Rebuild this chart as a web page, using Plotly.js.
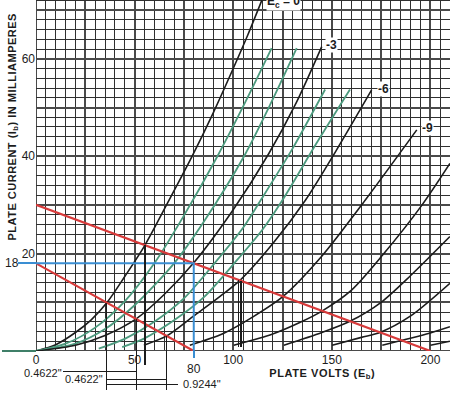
<!DOCTYPE html>
<html><head><meta charset="utf-8">
<script src="https://cdn.plot.ly/plotly-3.0.1.min.js"></script>
<style>
html,body{margin:0;padding:0;background:#fff;}
#chart{width:450px;height:394px;}
g.annotation[data-index="0"] text{letter-spacing:0.5px;}
g.annotation[data-index="1"] text{letter-spacing:0.6px;}
g.shapelayer path{shape-rendering:crispEdges;}
</style></head><body><div id="chart"></div>
<script>
// ---- plate characteristic curves (plate volts, plate mA) ----
const ec0V = [0, 10, 20, 28, 35.9, 45, 55.2, 67, 79.2, 90, 100, 107.5, 114.6];
const ec0I = [0, 1.3, 3.8, 6.4, 9.9, 15.3, 21.7, 30.6, 40, 49, 58, 65, 72.1];
const ecm1V = [0, 15, 30, 45, 60, 75, 92, 106, 119.5];
const ecm1I = [0, 1.5, 4.8, 10.2, 18, 27.8, 40, 51, 62.2];
const ecm2V = [0, 20, 35, 50, 70, 85, 105.5, 119, 132.2];
const ecm2I = [0, 1.5, 4.5, 9.4, 18, 26.5, 40, 50.8, 62.2];
const ecm3V = [0, 20, 35, 50.8, 65, 80, 100, 118, 132, 144.9];
const ecm3I = [0, 1.2, 3.2, 6.6, 11.6, 18.1, 29, 40.5, 51, 62.5];
const ecm4V = [31.8, 45, 60, 75, 90.5, 105, 114, 130, 146.6];
const ecm4I = [0.5, 2.5, 6, 10.8, 18, 25.3, 31, 41.5, 53.7];
const ecm5V = [43.7, 55, 70, 85, 100.5, 115, 125, 142, 159.2];
const ecm5I = [0.8, 2.6, 6.3, 11, 18, 25, 31, 42.5, 53.7];
const ecm6V = [54.7, 66.3, 80, 92, 103.7, 120, 136.7, 152, 170.2];
const ecm6I = [1.2, 3.1, 7.2, 10.8, 14.6, 22, 31, 41, 53.6];
const ecm9V = [78, 95, 110, 125.3, 145, 167, 193.1];
const ecm9I = [1.2, 3.6, 7.0, 11.2, 19.5, 31, 45.4];
const ecm12V = [100.3, 120, 134, 145, 160, 176, 195.8, 209.9];
const ecm12I = [1.2, 3.5, 5.9, 8.2, 12.5, 19.8, 30, 38.5];
const ecm15V = [125.7, 145, 159.2, 175, 190, 209.9];
const ecm15I = [1.2, 3.8, 6.1, 10, 15.5, 23.5];
const ecm18V = [150.2, 165, 174.4, 190, 209.9];
const ecm18I = [1.2, 2.8, 3.8, 7.2, 13.9];
const ecm21V = [175.6, 185.6, 198, 209.9];
const ecm21I = [1.2, 2.2, 3.5, 5.0];
const ecm24V = [200, 209.9];
const ecm24I = [1.2, 2.0];

// load lines and operating point
const loadAV = [0, 200];  const loadAI = [30, 0];
const loadBV = [0, 80];   const loadBI = [18, 0];
const qV = [0, 80, 80];   const qI = [18, 18, 0];

// grid swing marks (plate volts) on the load lines
const markBV = [35.9, 50.8, 66.3];
const markAV = [55.3, 102.6, 104];

// tick labels
const xTickVals = [0, 50, 100, 150, 200];
const yTickVals = [20, 40, 60];
const dimText = ['0.4622"', '0.4622"', '0.9244"'];
const curveLabels = ['E<sub>c</sub> = 0', '-3', '-6', '-9'];

const BLACK = '#1c1c1c', GREEN = '#4c9a7e', RED = '#d83a3a', BLUE = '#3a8ed3';
const GRID = '#303030', GRID_MAJOR = '#4a4a4a';
const FONT = 'Liberation Sans, Arial, sans-serif';

const W = 450, H = 394, ML = 36, MB = 43;
const PW = W - ML, PH = H - MB;
const XR = [0, PW / 1.972], YR = [0, PH / 4.87];
const pxV = v => (v - XR[0]) / (XR[1] - XR[0]);         // paper x from volts
const pyI = i => (i - YR[0]) / (YR[1] - YR[0]);         // paper y from mA
const pxP = p => (p - ML) / PW;                         // paper x from pixel
const pyP = p => (PH - p) / PH;                         // paper y from pixel
const interp = (xs, ys, x) => {
  for (let k = 0; k < xs.length - 1; k++) {
    if (x >= xs[k] && x <= xs[k + 1]) return ys[k] + (ys[k + 1] - ys[k]) * (x - xs[k]) / (xs[k + 1] - xs[k]);
  }
  return ys[ys.length - 1];
};

const curves = [
  [ec0V, ec0I, BLACK], [ecm1V, ecm1I, GREEN], [ecm2V, ecm2I, GREEN], [ecm3V, ecm3I, BLACK],
  [ecm4V, ecm4I, GREEN], [ecm5V, ecm5I, GREEN], [ecm6V, ecm6I, BLACK], [ecm9V, ecm9I, BLACK],
  [ecm12V, ecm12I, BLACK], [ecm15V, ecm15I, BLACK], [ecm18V, ecm18I, BLACK],
  [ecm21V, ecm21I, BLACK], [ecm24V, ecm24I, BLACK]
];
const traces = curves.map(c => ({
  x: c[0], y: c[1], type: 'scatter', mode: 'lines', hoverinfo: 'skip',
  line: {color: c[2], width: c[2] === GREEN ? 1.8 : 1.6, shape: 'spline', smoothing: 0.8}
}));
traces.push({x: loadAV, y: loadAI, type: 'scatter', mode: 'lines', line: {color: RED, width: 2.2}});
traces.push({x: loadBV, y: loadBI, type: 'scatter', mode: 'lines', line: {color: RED, width: 2.2}});
traces.push({x: qV, y: qI, type: 'scatter', mode: 'lines', line: {color: BLUE, width: 2}});

const shapes = [];
// graph-paper grid: 5 V / 2 mA, heavier every 25 V / 10 mA
for (let v = 0; v <= 210; v += 5) {
  const major = v % 25 === 0;
  shapes.push({type: 'line', layer: 'below', xref: 'x', yref: 'y', x0: v, x1: v, y0: YR[0], y1: YR[1],
    line: {color: major ? GRID_MAJOR : GRID, width: major ? 2 : 1}});
}
for (let i = 0; i <= 72; i += 2) {
  const major = i % 10 === 0;
  shapes.push({type: 'line', layer: 'below', xref: 'x', yref: 'y', x0: XR[0], x1: XR[1], y0: i, y1: i,
    line: {color: major ? GRID_MAJOR : GRID, width: major ? 2 : 1}});
}
const L = (x0, y0, x1, y1, color, width) => shapes.push({type: 'line', xref: 'paper', yref: 'paper',
  x0, y0, x1, y1, line: {color, width}});
// baseline tail to the left and operating-point extensions
L(pxP(2), pyI(0), pxV(0), pyI(0), '#3f7f68', 2);
L(pxP(18), pyI(qI[0]), pxV(0), pyI(qI[0]), BLUE, 2);
L(pxV(qV[1]), pyI(0), pxV(qV[1]), pyP(358), BLUE, 2);
// swing marks
markBV.forEach(v => L(pxV(v), pyI(interp(loadBV, loadBI, v)), pxV(v), pyP(390), BLACK, 1.2));
L(pxV(markAV[0]), pyI(interp(loadAV, loadAI, markAV[0])), pxV(markAV[0]), pyP(365), BLACK, 1.2);
L(pxV(markAV[1]), pyI(interp(loadAV, loadAI, markAV[1])), pxV(markAV[1]), pyI(0.9), BLACK, 1.2);
L(pxV(markAV[2]), pyI(interp(loadAV, loadAI, markAV[2])), pxV(markAV[2]), pyI(0.9), BLACK, 1.2);
// dimension lines
L(pxP(63), pyP(371), pxV(markBV[1]), pyP(371), BLACK, 1);
L(pxV(markBV[0]), pyP(379.3), pxV(markBV[2]), pyP(379.3), BLACK, 1);
L(pxV(markBV[0]), pyP(384.3), pxP(178), pyP(384.3), BLACK, 1);

const ann = (text, x, y, opts) => Object.assign({text, x, y, xref: 'paper', yref: 'paper',
  showarrow: false, xanchor: 'center', yanchor: 'middle',
  font: {family: FONT, size: 11, color: BLACK}}, opts || {});
const bold12 = {family: FONT, size: 12, color: BLACK, weight: 'bold'};
const endLabel = (text, vs, is, dx, dy) => ({text, x: vs[vs.length - 1], y: is[is.length - 1], xref: 'x', yref: 'y',
  showarrow: false, xanchor: 'left', yanchor: 'middle', xshift: dx, yshift: dy, bgcolor: '#fff', borderpad: 0, font: bold12});
const annotations = [
  ann('PLATE CURRENT (I<sub>b</sub>) IN MILLIAMPERES', pxP(13), pyP(127), {textangle: -90, font: {family: FONT, size: 11, color: BLACK, weight: 'bold'}}),
  ann('PLATE VOLTS (E<sub>b</sub>)', pxP(322), pyP(374), {font: {family: FONT, size: 11, color: BLACK, weight: 'bold'}}),
  ann(String(qI[0]), pxP(12), pyI(qI[0]), {font: {family: FONT, size: 12, color: BLACK}}),
  ann(String(qV[1]), pxV(qV[1]), pyP(369), {font: {family: FONT, size: 12, color: BLACK}}),
  ann(dimText[0], pxP(42.5), pyP(372.5), {font: {family: FONT, size: 11, color: BLACK}}),
  ann(dimText[1], pxP(84), pyP(379), {font: {family: FONT, size: 11, color: BLACK}}),
  ann(dimText[2], pxP(202), pyP(384), {font: {family: FONT, size: 11, color: BLACK}}),
  ann(curveLabels[0], pxV(ec0V[ec0V.length - 1]), pyP(2), {xanchor: 'left', xshift: 4, bgcolor: '#fff', borderpad: 0, font: bold12}),
  endLabel(curveLabels[1], ecm3V, ecm3I, 3, 2),
  endLabel(curveLabels[2], ecm6V, ecm6I, 5, 1),
  endLabel(curveLabels[3], ecm9V, ecm9I, 4, 2)
];

const layout = {
  width: W, height: H, margin: {l: ML, r: 0, t: 0, b: MB, pad: 0},
  paper_bgcolor: '#fff', plot_bgcolor: '#fff', showlegend: false,
  xaxis: {range: XR, tickmode: 'array', tickvals: xTickVals, ticks: '', showgrid: false, zeroline: false,
    showline: false, tickfont: {family: FONT, size: 12, color: BLACK}},
  yaxis: {range: YR, tickmode: 'array', tickvals: yTickVals, ticks: '', showgrid: false, zeroline: false,
    showline: false, tickfont: {family: FONT, size: 12, color: BLACK}},
  shapes, annotations
};
Plotly.newPlot('chart', traces, layout, {staticPlot: true, displayModeBar: false});
</script></body></html>
